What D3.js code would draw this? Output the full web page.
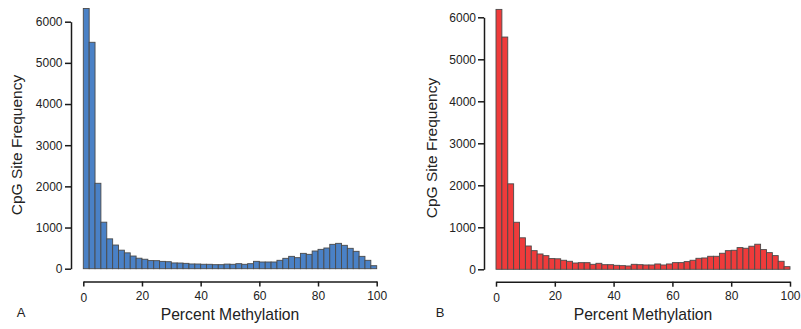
<!DOCTYPE html>
<html>
<head>
<meta charset="utf-8">
<script src="https://cdn.jsdelivr.net/npm/d3@7"></script>
<style>
  html, body { margin: 0; padding: 0; background: #fff; }
  svg { display: block; }
  text { font-family: "Liberation Sans", Arial, sans-serif; fill: #222; }
</style>
</head>
<body>
<svg id="chart" width="801" height="329"></svg>
<script>
// Bin starts (percent methylation), each bin 2% wide
const binStarts = [0,2,4,6,8,10,12,14,16,18,20,22,24,26,28,30,32,34,36,38,40,42,44,46,48,
                   50,52,54,56,58,60,62,64,66,68,70,72,74,76,78,80,82,84,86,88,90,92,94,96,98];
const binWidth = 2;

// Panel A frequencies
const freqA = [6320,5500,2075,1130,725,575,450,385,308,255,230,197,195,178,170,140,138,130,115,114,
               108,107,98,98,112,107,122,107,122,179,163,163,163,204,252,300,268,373,349,430,
               470,503,592,616,568,495,422,300,204,73];
// Panel B frequencies
const freqB = [6188,5530,2035,1120,750,555,444,365,325,255,250,215,191,150,158,158,119,143,110,110,
               95,87,79,119,110,103,103,127,103,127,159,159,183,215,262,270,310,310,382,444,
               453,517,501,549,597,469,397,326,191,63];

const yTicks = [0,1000,2000,3000,4000,5000,6000];
const xTicks = [0,20,40,60,80,100];
const xTitle = "Percent Methylation";
const yTitle = "CpG Site Frequency";

const svg = d3.select("#chart");

const panels = [
  { data: freqA, letter: "A", fill: "#4a81c6",
    x0: 83.3, x1: 376.7, yBase: 268.7, yTop: 21.7, yAxisX: 71, xAxisY: 281.5,
    yTitleX: 22, yTitleY: 145, letterX: 21, tickPad: 2.5 },
  { data: freqB, letter: "B", fill: "#ef3b3b",
    x0: 496, x1: 790, yBase: 269.3, yTop: 17.3, yAxisX: 484, xAxisY: 281.7,
    yTitleX: 437, yTitleY: 148, letterX: 440, tickPad: 2 }
];

panels.forEach(p => {
  const x = d3.scaleLinear().domain([0, 100]).range([p.x0, p.x1]);
  const y = d3.scaleLinear().domain([0, 6000]).range([p.yBase, p.yTop]);
  const g = svg.append("g");

  // bars
  g.selectAll("rect.bar")
    .data(binStarts.map((s, i) => ({ s, v: p.data[i] })))
    .join("rect")
    .attr("class", "bar")
    .attr("x", d => x(d.s))
    .attr("width", d => x(d.s + binWidth) - x(d.s))
    .attr("y", d => y(d.v))
    .attr("height", d => y(0) - y(d.v))
    .attr("fill", p.fill)
    .attr("stroke", "#4a4a4a")
    .attr("stroke-width", 0.9);

  // y axis
  const ya = g.append("g")
    .attr("transform", `translate(${p.yAxisX},0)`)
    .call(d3.axisLeft(y).tickValues(yTicks).tickFormat(d3.format("d"))
      .tickSize(6).tickSizeOuter(0).tickPadding(p.tickPad));
  ya.select(".domain").attr("stroke", "#1a1a1a").attr("stroke-width", 1.5);
  ya.selectAll(".tick line").attr("stroke", "#1a1a1a").attr("stroke-width", 1.5);
  ya.selectAll(".tick text").style("font-size", "12px").style("fill", "#222")
    .style("font-family", "'Liberation Sans', Arial, sans-serif");

  // x axis
  const xa = g.append("g")
    .attr("transform", `translate(0,${p.xAxisY})`)
    .call(d3.axisBottom(x).tickValues(xTicks).tickFormat(d3.format("d"))
      .tickSize(5).tickSizeOuter(0).tickPadding(4.5));
  xa.select(".domain").attr("stroke", "#1a1a1a").attr("stroke-width", 1.5);
  xa.selectAll(".tick line").attr("stroke", "#1a1a1a").attr("stroke-width", 1.5);
  xa.selectAll(".tick text").style("font-size", "12px").style("fill", "#222")
    .style("font-family", "'Liberation Sans', Arial, sans-serif");
  xa.selectAll(".tick text").filter(d => d === 0).attr("dy", "0.88em");

  // titles
  g.append("text")
    .attr("x", (p.x0 + p.x1) / 2)
    .attr("y", 319.5)
    .attr("text-anchor", "middle")
    .style("font-size", "15.7px")
    .text(xTitle);

  g.append("text")
    .attr("transform", `translate(${p.yTitleX},${p.yTitleY}) rotate(-90)`)
    .attr("text-anchor", "middle")
    .style("font-size", "15.5px")
    .text(yTitle);

  g.append("text")
    .attr("x", p.letterX)
    .attr("y", 316.5)
    .attr("text-anchor", "middle")
    .style("font-size", "13px")
    .text(p.letter);
});
</script>
</body>
</html>
